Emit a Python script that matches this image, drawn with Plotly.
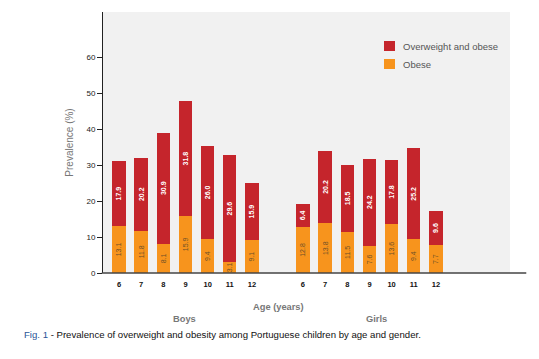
import plotly.graph_objects as go

ages = ["6", "7", "8", "9", "10", "11", "12"]
boys_obese = [13.1, 11.8, 8.1, 15.9, 9.4, 3.1, 9.1]
boys_overweight = [17.9, 20.2, 30.9, 31.8, 26.0, 29.6, 15.9]
girls_obese = [12.8, 13.8, 11.5, 7.6, 13.6, 9.4, 7.7]
girls_overweight = [6.4, 20.2, 18.5, 24.2, 17.8, 25.2, 9.6]
y_ticks = [0, 10, 20, 30, 40, 50, 60]
series_names = ["Overweight and obese", "Obese"]

RED = "#c5252c"
ORANGE = "#f7941d"
GIRL_OFFSET = 8.3

L, T, W_PLOT, H_PLOT = 103, 12, 407, 261


def px(x):
    return (x - L) / W_PLOT


def py(y):
    return (T + H_PLOT - y) / H_PLOT


bx = [i for i in range(len(ages))]
gx = [i + GIRL_OFFSET for i in range(len(ages))]
xs = bx + gx
obese = boys_obese + girls_obese
over = boys_overweight + girls_overweight

fig = go.Figure()
fig.add_trace(go.Bar(
    x=xs, y=obese, name=series_names[1], marker=dict(color=ORANGE, line=dict(width=0)),
    width=0.6, text=[f"{v:.1f}" for v in obese], textposition="inside",
    textangle=-90, insidetextanchor="middle", constraintext="none",
    insidetextfont=dict(size=7, color="#6e5028", family="Liberation Sans"),
    showlegend=False,
))
fig.add_trace(go.Bar(
    x=xs, y=over, name=series_names[0], marker=dict(color=RED, line=dict(width=0)),
    width=0.6, text=[f"<b>{v:.1f}</b>" for v in over], textposition="inside",
    textangle=-90, insidetextanchor="middle", constraintext="none",
    insidetextfont=dict(size=7, color="white", family="Liberation Sans"),
    showlegend=False,
))

shapes = [dict(type="line", xref="paper", yref="paper", x0=-0.003, x1=1.04, y0=0, y1=0,
               line=dict(color="#444", width=1.5))]
annotations = []
# legend (drawn manually)
for i, (name, col) in enumerate(zip(series_names, [RED, ORANGE])):
    y0 = 41 + i * 18
    shapes.append(dict(type="rect", xref="paper", yref="paper", x0=px(384), x1=px(395),
                       y0=py(y0 + 10), y1=py(y0), fillcolor=col, line=dict(width=0)))
    annotations.append(dict(text=name, xref="paper", yref="paper", x=px(401), y=py(y0 + 5),
                            xanchor="left", yanchor="middle", showarrow=False,
                            font=dict(size=9.5, color="#555")))

annotations += [
    dict(text="<b>Age (years)</b>", xref="paper", yref="paper", x=px(278),
         y=py(307), xanchor="center", yanchor="middle", showarrow=False,
         font=dict(size=9.3, color="#777")),
    dict(text="<b>Boys</b>", xref="paper", yref="paper", x=px(184),
         y=py(319), xanchor="center", yanchor="middle", showarrow=False,
         font=dict(size=9.3, color="#777")),
    dict(text="<b>Girls</b>", xref="paper", yref="paper", x=px(376),
         y=py(319), xanchor="center", yanchor="middle", showarrow=False,
         font=dict(size=9.3, color="#777")),
    dict(text="<span style='color:#2b5597'>Fig. 1</span> - Prevalence of overweight and obesity among Portuguese children by age and gender.",
         xref="paper", yref="paper", x=px(22), y=py(334),
         xanchor="left", yanchor="middle", showarrow=False,
         font=dict(size=9.6, color="#111")),
]

fig.update_layout(
    width=539, height=359,
    margin=dict(l=L, r=539 - L - W_PLOT, t=T, b=359 - T - H_PLOT),
    barmode="stack",
    paper_bgcolor="white",
    plot_bgcolor="#f1f1f1",
    font=dict(family="Liberation Sans, Arial, sans-serif", size=8, color="#333"),
    showlegend=False,
    xaxis=dict(
        range=[-0.72, 17.64], tickmode="array", tickvals=xs,
        ticktext=[f"<b>{a}</b>" for a in ages + ages],
        showgrid=False, zeroline=False, showline=False, ticks="",
        ticklabelstandoff=5,
        tickfont=dict(size=7.5, color="#111", family="Liberation Sans"),
    ),
    yaxis=dict(
        range=[0, 72.5], tickmode="array", tickvals=y_ticks,
        showgrid=False, zeroline=False, showline=True, linecolor="#222", linewidth=1,
        ticks="outside", ticklen=5, tickcolor="#222",
        tickfont=dict(size=8, color="#222"),
        title=dict(text="Prevalence (%)", font=dict(size=10, color="#777"), standoff=10),
    ),
    shapes=shapes,
    annotations=annotations,
)

fig.write_html("out.html", config={"displayModeBar": False},
               post_script="document.body.style.margin='0';")
